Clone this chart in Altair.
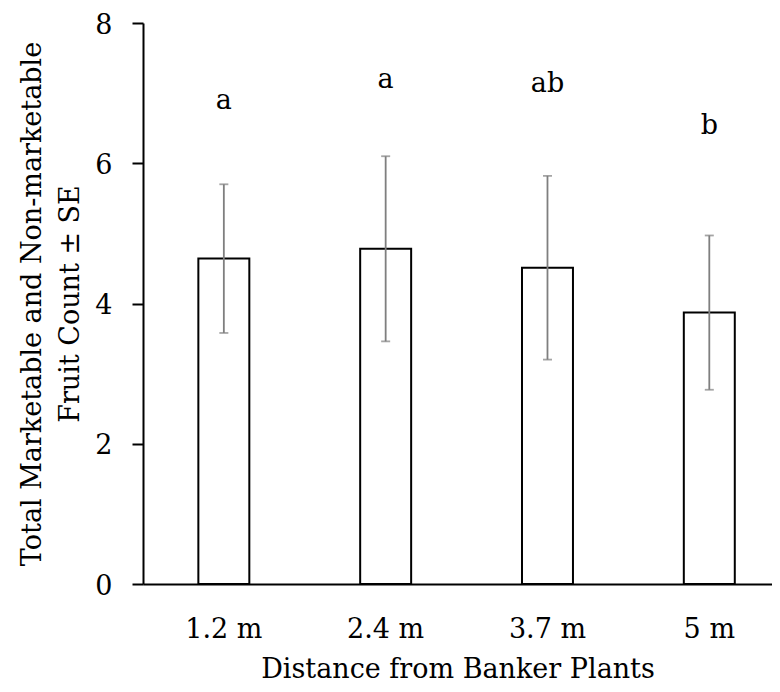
import altair as alt
import pandas as pd

categories = ["1.2 m", "2.4 m", "3.7 m", "5 m"]
means = [4.64, 4.78, 4.51, 3.87]
se = [1.06, 1.32, 1.31, 1.10]
letters = ["a", "a", "ab", "b"]
letter_y = [6.77, 7.07, 7.01, 6.41]

df = pd.DataFrame({
    "cat": categories,
    "mean": means,
    "lo": [m - s for m, s in zip(means, se)],
    "hi": [m + s for m, s in zip(means, se)],
    "letter": letters,
    "ly": letter_y,
})

FONT = "DejaVu Serif"
FS = 27

xscale = alt.Scale(domain=categories, paddingInner=0.685, paddingOuter=0.286, align=0.598)
yscale = alt.Scale(domain=[0, 8], nice=False)

x_enc = alt.X("cat:N", scale=xscale, sort=categories,
              axis=alt.Axis(title="Distance from Banker Plants", labelAngle=0,
                            ticks=False, tickSize=0, labelPadding=32,
                            labelFontSize=FS, labelColor="black",
                            titleFontSize=FS, titleFontWeight="normal", titleColor="black",
                            titleY=93, titleBaseline="alphabetic",
                            domainColor="black", domainWidth=2))

base = alt.Chart(df)

bars = base.mark_bar(fill="white", stroke="black", strokeWidth=2).encode(
    x=x_enc,
    y=alt.Y("mean:Q", scale=yscale,
            axis=alt.Axis(values=[0, 2, 4, 6, 8], grid=False, format="d",
                          title=["Total Marketable and Non-marketable", "Fruit Count ± SE"],
                          tickSize=11, tickColor="black", tickWidth=2,
                          labelPadding=20, labelFontSize=FS, labelColor="black",
                          labelOffset=2,
                          titleFontSize=FS, titleFontWeight="normal", titleColor="black",
                          titleX=-103, titleBaseline="alphabetic", titleLineHeight=38,
                          domainColor="black", domainWidth=2)),
)

rules = base.mark_rule(color="#7f7f7f", strokeWidth=1.8).encode(
    x=alt.X("cat:N", scale=xscale, sort=categories),
    y=alt.Y("lo:Q", scale=yscale),
    y2="hi:Q",
)

caps_hi = base.mark_tick(color="#7f7f7f", thickness=1.8, size=9, orient="horizontal").encode(
    x=alt.X("cat:N", scale=xscale, sort=categories),
    y=alt.Y("hi:Q", scale=yscale),
)
caps_lo = base.mark_tick(color="#7f7f7f", thickness=1.8, size=9, orient="horizontal").encode(
    x=alt.X("cat:N", scale=xscale, sort=categories),
    y=alt.Y("lo:Q", scale=yscale),
)

text = base.mark_text(fontSize=FS, baseline="alphabetic", align="center", color="black").encode(
    x=alt.X("cat:N", scale=xscale, sort=categories),
    y=alt.Y("ly:Q", scale=yscale),
    text="letter:N",
)

chart = alt.layer(bars, rules, caps_hi, caps_lo, text).properties(
    width=629, height=561,
    autosize=alt.AutoSizeParams(type="none"),
    padding={"left": 135, "top": 15, "right": 0, "bottom": 100},
).configure(font=FONT).configure_view(stroke=None)

chart.save("out.html", embed_options={"renderer": "svg", "actions": False})
